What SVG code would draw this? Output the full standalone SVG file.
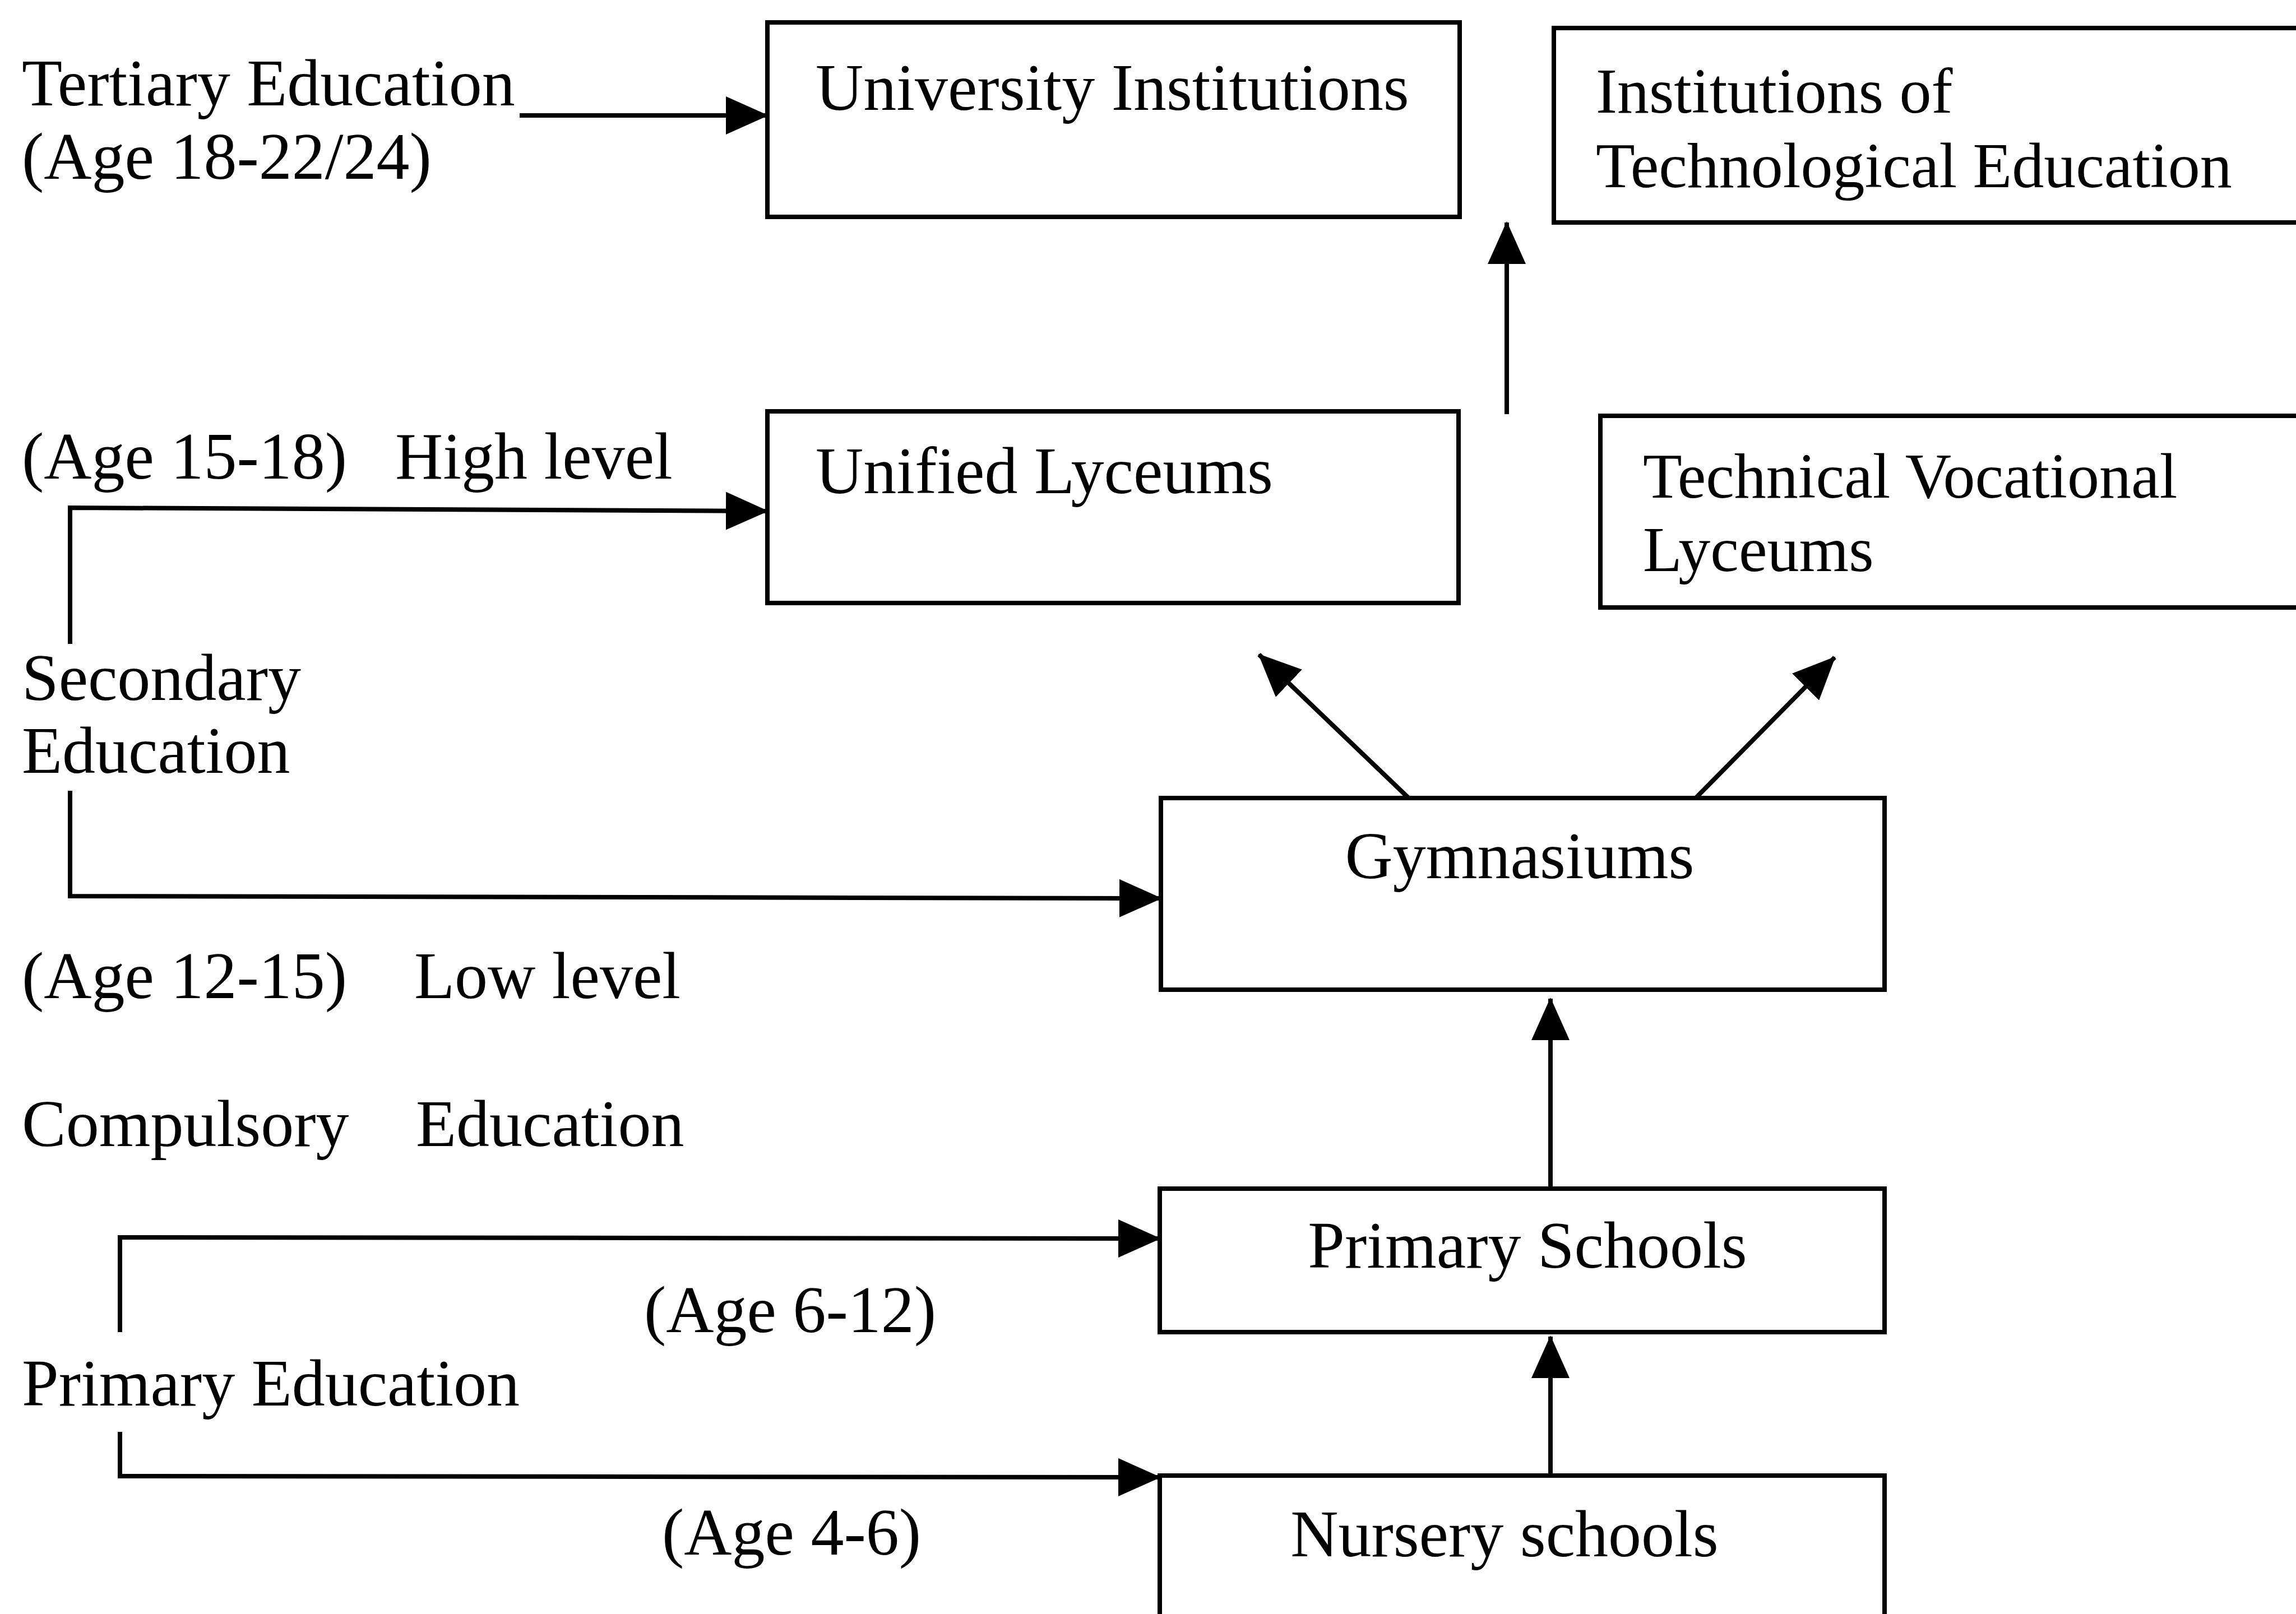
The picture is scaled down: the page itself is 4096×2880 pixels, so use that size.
<svg xmlns="http://www.w3.org/2000/svg" width="4096" height="2880" viewBox="0 0 4096 2880">
<defs>
<style>
text{font-family:"Liberation Serif","Times New Roman",serif;font-size:118px;fill:#000}
.box{fill:#fff;stroke:#000;stroke-width:8}
.ln{fill:none;stroke:#000;stroke-width:8}
.mid{text-anchor:middle}
.sm{font-size:114px}
</style>
<marker id="ah" viewBox="0 0 76 68" refX="74" refY="34" markerWidth="76" markerHeight="68" markerUnits="userSpaceOnUse" orient="auto">
<path d="M0,0 L76,34 L0,68 z" fill="#000"/>
</marker>
</defs>
<rect width="4096" height="2880" fill="#fff"/>
<g id="labels">
<text x="39" y="188">Tertiary Education</text>
<text x="39" y="319">(Age 18-22/24)</text>
<text x="39" y="854">(Age 15-18)</text>
<text x="705" y="854">High level</text>
<text x="39" y="1249">Secondary</text>
<text x="39" y="1379">Education</text>
<text x="39" y="1781">(Age 12-15)</text>
<text x="739" y="1781">Low level</text>
<text x="39" y="2045">Compulsory</text>
<text x="742" y="2045">Education</text>
<text x="1149" y="2377">(Age 6-12)</text>
<text x="39" y="2508">Primary Education</text>
<text x="1181" y="2774">(Age 4-6)</text>
</g>
<g id="connectors">
<line class="ln" x1="927" y1="206" x2="1369" y2="206" marker-end="url(#ah)"/>
<line class="ln" x1="2688" y1="739" x2="2688" y2="397" marker-end="url(#ah)"/>
<polyline class="ln" points="125,1149 125,906 1369,912" marker-end="url(#ah)"/>
<polyline class="ln" points="125,1411 125,1599 2071,1603" marker-end="url(#ah)"/>
<line class="ln" x1="2513" y1="1424" x2="2246" y2="1168" marker-end="url(#ah)"/>
<line class="ln" x1="3025" y1="1424" x2="3273" y2="1173" marker-end="url(#ah)"/>
<line class="ln" x1="2766" y1="2121" x2="2766" y2="1782" marker-end="url(#ah)"/>
<line class="ln" x1="2766" y1="2633" x2="2766" y2="2385" marker-end="url(#ah)"/>
<polyline class="ln" points="214,2377 214,2208 2069,2210" marker-end="url(#ah)"/>
<polyline class="ln" points="214,2555 214,2634 2069,2636" marker-end="url(#ah)"/>
</g>
<g id="university">
<rect class="box" x="1369" y="40" width="1235" height="347"/>
<text x="1455" y="196">University Institutions</text>
</g>
<g id="technological">
<rect class="box" x="2772" y="50" width="1400" height="347"/>
<text class="sm" x="2847" y="201">Institutions of</text>
<text class="sm" x="2847" y="334">Technological Education</text>
</g>
<g id="unified">
<rect class="box" x="1369" y="734" width="1233" height="342"/>
<text x="1455" y="880">Unified Lyceums</text>
</g>
<g id="technical">
<rect class="box" x="2855" y="742" width="1300" height="342"/>
<text class="sm" x="2931" y="888">Technical Vocational</text>
<text class="sm" x="2931" y="1019">Lyceums</text>
</g>
<g id="gymnasiums">
<rect class="box" x="2071" y="1424" width="1291" height="342"/>
<text class="mid" x="2711" y="1567">Gymnasiums</text>
</g>
<g id="primary">
<rect class="box" x="2069" y="2121" width="1293" height="256"/>
<text class="mid" x="2725" y="2262">Primary Schools</text>
</g>
<g id="nursery">
<rect class="box" x="2069" y="2633" width="1293" height="300"/>
<text class="mid" x="2684" y="2777">Nursery schools</text>
</g>
</svg>
